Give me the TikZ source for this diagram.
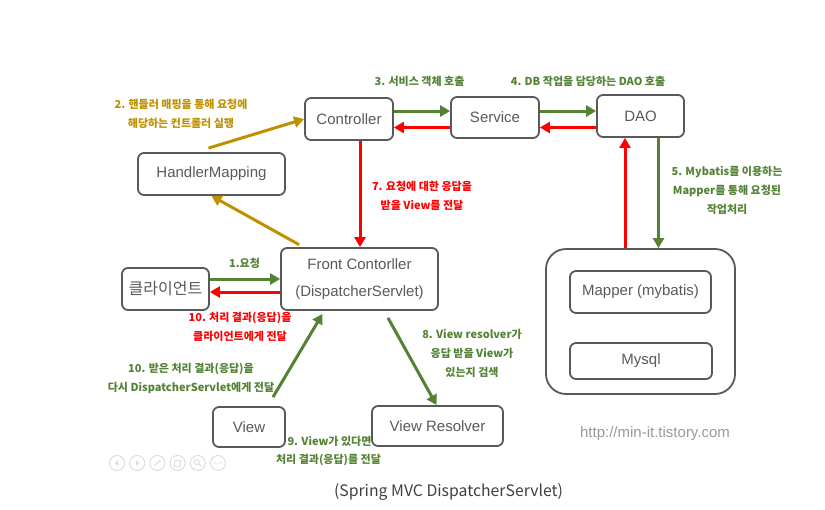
\documentclass[tikz,border=0pt]{standalone}
\usepackage{fontspec}
\setmainfont{Liberation Sans}
\newfontfamily\kr{Noto Sans CJK KR}
\usepackage{tikz}
\usetikzlibrary{calc, positioning, arrows.meta}
\definecolor{boxgray}{HTML}{595959}
\definecolor{flowgreen}{HTML}{548235}
\definecolor{flowgold}{HTML}{BF9000}
\definecolor{flowred}{HTML}{FF0000}
\definecolor{icongray}{HTML}{DDDDDD}
\tikzset{
	x = 1pt,
	y = -1pt,
	font = \fontsize{15}{27}\selectfont,
	block/.style={
		draw=boxgray,
		text=boxgray,
		rounded corners=6pt,
		line width=1.8pt,
		inner sep=0pt,
		align=center
	},
	flow/.style={
		-{Triangle[length=10pt, width=11pt]},
		line width=3pt
	},
	note/.style={
		font=\kr\bfseries\fontsize{11}{19}\selectfont,
		align=center
	},
	icon/.style={
		draw=icongray,
		circle,
		line width=1pt,
		minimum size=15pt,
		inner sep=0pt
	}
}

\begin{document}
\begin{tikzpicture}
	\useasboundingbox (0,0) rectangle (825,509);
	% boxes
	\node[block, minimum width=88pt, minimum height=42pt] (ctrl) at (349,119) {Controller};
	\node[block, minimum width=88pt, minimum height=41pt] (svc) at (495,117.5) {Service};
	\node[block, minimum width=87pt, minimum height=42pt] (dao) at (640.5,116) {DAO};
	\node[block, minimum width=147pt, minimum height=42pt] (hm) at (211.5,174) {HandlerMapping};
	\node[block, minimum width=157pt, minimum height=62pt] (fc) at (359.5,279) {Front Contorller\\(DispatcherServlet)};
	\node[block, minimum width=87pt, minimum height=42pt, font=\kr\fontsize{16}{18}\selectfont] (client) at (165.5,289) {클라이언트};
	\node[block, rounded corners=20pt, minimum width=189pt, minimum height=145pt] (db) at (640.5,321.5) {};
	\node[block, minimum width=141pt, minimum height=42pt] (mapper) at (640.5,292) {Mapper (mybatis)};
	\node[block, minimum width=142pt, minimum height=36pt] (mysql) at (641,361) {Mysql};
	\node[block, minimum width=72pt, minimum height=40pt] (view) at (249,427) {View};
	\node[block, minimum width=131pt, minimum height=40pt] (vr) at (437.5,426) {View Resolver};

	% arrows
	\draw[flow, flowgreen] ([yshift=8pt]ctrl.east) -- ([yshift=8pt]ctrl.east -| svc.west);
	\draw[flow, flowred] ([yshift=-10pt]svc.west) -- ([yshift=-10pt]svc.west -| ctrl.east);
	\draw[flow, flowgreen] ([yshift=6.5pt]svc.east) -- ([yshift=6.5pt]svc.east -| dao.west);
	\draw[flow, flowred] ([yshift=-11.5pt]dao.west) -- ([yshift=-11.5pt]dao.west -| svc.east);
	\draw[flow, flowgreen] ([xshift=18pt]dao.south) -- ([xshift=18pt]dao.south |- db.north);
	\draw[flow, flowred] ([xshift=-15.5pt]dao.south |- db.north) -- ([xshift=-15.5pt]dao.south);
	\draw[flow, flowred] ([xshift=11pt]ctrl.south) -- ([xshift=11pt]ctrl.south |- fc.north);
	\draw[flow, flowgold] ([xshift=-3pt, yshift=4pt]hm.north) -- (ctrl.west);
	\draw[flow, flowgold, shorten <=5pt] ([xshift=-56pt]fc.north) -- (hm.south);
	\draw[flow, flowgreen] ([yshift=10pt]client.east) -- ([yshift=10pt]client.east -| fc.west);
	\draw[flow, flowred] ([yshift=-3pt]client.east -| fc.west) -- ([yshift=-3pt]client.east);
	\draw[flow, flowgreen] ([xshift=24pt, yshift=9pt]view.north) -- ([xshift=-37pt, yshift=-3pt]fc.south);
	\draw[flow, flowgreen] ([xshift=28.5pt, yshift=-7pt]fc.south) -- ([xshift=-1pt]vr.north);

	% labels
	\node[note, text=flowgreen] (l3) at (419.5,81) {3. 서비스 객체 호출};
	\node[note, text=flowgreen] (l4) at (588,81) {4. DB 작업을 담당하는 DAO 호출};
	\node[note, text=flowgold] (l2) at (181,113.5) {2. 핸들러 매핑을 통해 요청에\\해당하는 컨트롤러 실행};
	\node[note, text=flowred] (l7) at (422,195.5) {7. 요청에 대한 응답을\\받을 View를 전달};
	\node[note, text=flowgreen] (l5) at (727,190.5) {5. Mybatis를 이용하는\\Mapper를 통해 요청된\\작업처리};
	\node[note, text=flowgreen] (l1) at (244.5,263) {1.요청};
	\node[note, text=flowred] (l10a) at (240,327) {10. 처리 결과(응답)을\\클라이언트에게 전달};
	\node[note, text=flowgreen] (l10b) at (191,378) {10. 받은 처리 결과(응답)을\\다시 DispatcherServlet에게 전달};
	\node[note, text=flowgreen] (l8) at (472,353) {8. View resolver가\\응답 받을 View가\\있는지 검색};
	\node[note, text=flowgreen, anchor=west] (l9a) at (284,441) {9. View가 있다면};
	\node[note, text=flowgreen] (l9b) at (328.5,460) {처리 결과(응답)를 전달};

	\node[text=black!40] (url) at (655,434) {http://min-it.tistory.com};
	\node[font=\kr\fontsize{15.8}{18}\selectfont, text=black!75] (caption) at (448.5,492) {(Spring MVC DispatcherServlet)};

	% viewer toolbar
	\foreach \i in {0,...,5}
		\node[icon] (ic\i) at (117+20.2*\i,463) {};
	\begin{scope}[draw=icongray, fill=icongray, line width=1pt]
		\fill ([xshift=-2pt]ic0.center) -- ++(3pt,3pt) -- ++(0,-6pt) -- cycle;
		\fill ([xshift=2pt]ic1.center) -- ++(-3pt,3pt) -- ++(0,-6pt) -- cycle;
		\draw ([xshift=-3pt, yshift=-3pt]ic2.center) -- ([xshift=3pt, yshift=3pt]ic2.center);
		\draw ([xshift=-3pt, yshift=-3pt]ic3.center) rectangle ([xshift=3pt, yshift=3pt]ic3.center);
		\draw ([xshift=-1pt, yshift=1pt]ic4.center) circle (2.5pt);
		\draw ([xshift=1pt, yshift=-1pt]ic4.center) -- ([xshift=3.5pt, yshift=-3.5pt]ic4.center);
		\foreach \d in {-3,0,3}
			\fill ([xshift=\d pt]ic5.center) circle (0.8pt);
	\end{scope}
\end{tikzpicture}
\end{document}
